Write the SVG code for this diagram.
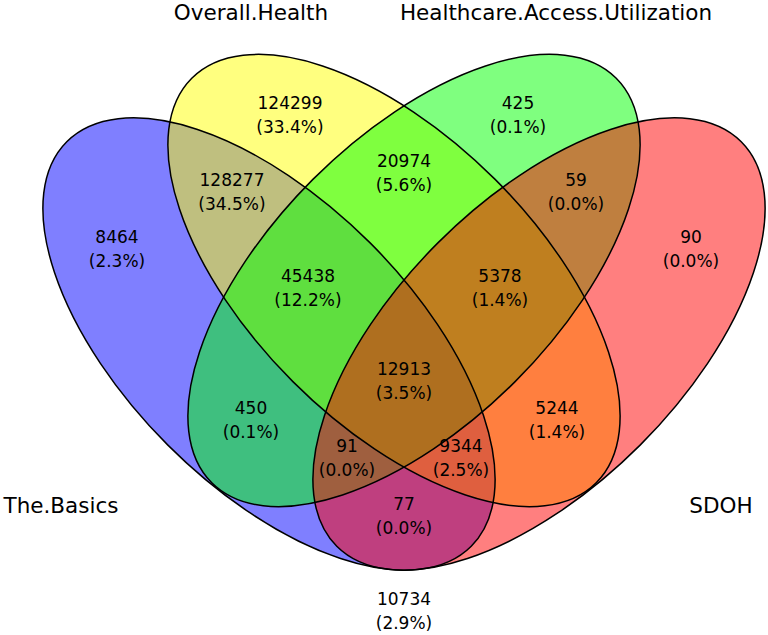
<svg xmlns="http://www.w3.org/2000/svg" xmlns:xlink="http://www.w3.org/1999/xlink" width="768" height="635" viewBox="0 0 768 635">
<style>
.fill{fill-opacity:0.5;stroke:none}
.outline{fill:none;stroke:#000;stroke-width:1.5}
text{font-family:"DejaVu Sans","Liberation Sans",sans-serif;fill:#000;text-anchor:middle}
.num{font-size:17px}
.cat{font-size:21.5px}
</style>
<defs>
<ellipse id="shapeBasics" cx="0" cy="0" rx="286" ry="143" transform="translate(269,344) rotate(45)"/>
<ellipse id="shapeHealth" cx="0" cy="0" rx="286" ry="143" transform="translate(394,280.5) rotate(45)"/>
<ellipse id="shapeAccess" cx="0" cy="0" rx="286" ry="143" transform="translate(414,280.5) rotate(-45)"/>
<ellipse id="shapeSDOH" cx="0" cy="0" rx="286" ry="143" transform="translate(539,344) rotate(-45)"/>
</defs>
<rect width="768" height="635" fill="#fff"/>
<g id="set-the-basics">
<use xlink:href="#shapeBasics" href="#shapeBasics" class="fill" fill="#0000ff"/>
<text class="cat" x="61" y="513">The.Basics</text>
</g>
<g id="set-overall-health">
<use xlink:href="#shapeHealth" href="#shapeHealth" class="fill" fill="#ffff00"/>
<text class="cat" x="251" y="20">Overall.Health</text>
</g>
<g id="set-healthcare-access">
<use xlink:href="#shapeAccess" href="#shapeAccess" class="fill" fill="#00ff00"/>
<text class="cat" x="556" y="20">Healthcare.Access.Utilization</text>
</g>
<g id="set-sdoh">
<use xlink:href="#shapeSDOH" href="#shapeSDOH" class="fill" fill="#ff0000"/>
<text class="cat" x="721" y="513">SDOH</text>
</g>
<g id="connectors">
<use xlink:href="#shapeBasics" href="#shapeBasics" class="outline"/>
<use xlink:href="#shapeHealth" href="#shapeHealth" class="outline"/>
<use xlink:href="#shapeAccess" href="#shapeAccess" class="outline"/>
<use xlink:href="#shapeSDOH" href="#shapeSDOH" class="outline"/>
</g>
<g id="region-labels" class="num">
<text class="num" x="290" y="109">124299</text><text class="num" x="290" y="133">(33.4%)</text>
<text class="num" x="518" y="109">425</text><text class="num" x="518" y="133">(0.1%)</text>
<text class="num" x="404" y="167">20974</text><text class="num" x="404" y="191">(5.6%)</text>
<text class="num" x="232" y="186">128277</text><text class="num" x="232" y="210">(34.5%)</text>
<text class="num" x="576" y="186">59</text><text class="num" x="576" y="210">(0.0%)</text>
<text class="num" x="117" y="243">8464</text><text class="num" x="117" y="267">(2.3%)</text>
<text class="num" x="691" y="243">90</text><text class="num" x="691" y="267">(0.0%)</text>
<text class="num" x="308" y="282">45438</text><text class="num" x="308" y="306">(12.2%)</text>
<text class="num" x="500" y="282">5378</text><text class="num" x="500" y="306">(1.4%)</text>
<text class="num" x="404" y="375">12913</text><text class="num" x="404" y="399">(3.5%)</text>
<text class="num" x="251" y="414">450</text><text class="num" x="251" y="438">(0.1%)</text>
<text class="num" x="557" y="414">5244</text><text class="num" x="557" y="438">(1.4%)</text>
<text class="num" x="347" y="452">91</text><text class="num" x="347" y="476">(0.0%)</text>
<text class="num" x="461" y="452">9344</text><text class="num" x="461" y="476">(2.5%)</text>
<text class="num" x="404" y="510">77</text><text class="num" x="404" y="534">(0.0%)</text>
<text class="num" x="404" y="605">10734</text><text class="num" x="404" y="629">(2.9%)</text>
</g>
</svg>
